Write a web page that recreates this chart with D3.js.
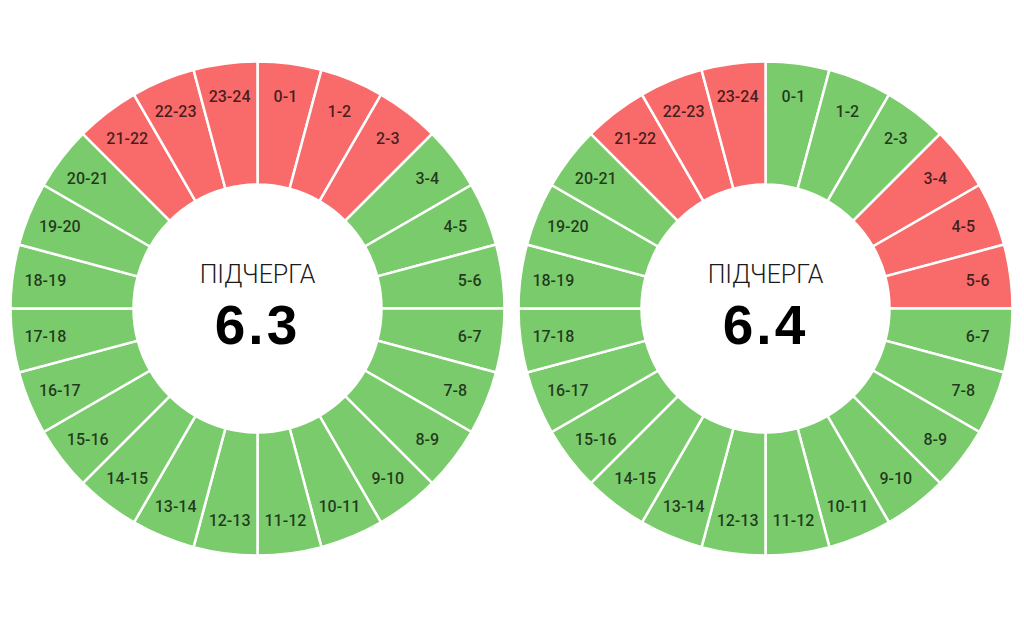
<!DOCTYPE html>
<html>
<head>
<meta charset="utf-8">
<script src="https://cdn.jsdelivr.net/npm/d3@7"></script>
<style>
  html, body { margin: 0; padding: 0; background: #fff; }
  svg { display: block; }
</style>
</head>
<body>
<svg id="chart" width="1024" height="628"></svg>
<script>
// ---- data ----
const hours = ["0-1","1-2","2-3","3-4","4-5","5-6","6-7","7-8","8-9","9-10","10-11","11-12",
               "12-13","13-14","14-15","15-16","16-17","17-18","18-19","19-20","20-21","21-22","22-23","23-24"];
const queueNames = ["6.3", "6.4"];
const queueTitle = "ПІДЧЕРГА";
// 1 = outage (red), 0 = power on (green)
const outage63 = [1,1,1,0,0,0,0,0,0,0,0,0,0,0,0,0,0,0,0,0,0,1,1,1];
const outage64 = [0,0,0,1,1,1,0,0,0,0,0,0,0,0,0,0,0,0,0,0,0,1,1,1];
const outages = [outage63, outage64];

const colorOn = "#7acb6b";
const colorOff = "#f96b6b";

const svg = d3.select("#chart");
const centers = [[257.5, 308.5], [765.5, 308.5]];
const rInner = 124, rOuter = 247, rLabel = 214;

const pie = d3.pie().value(() => 1).sort(null);
const arc = d3.arc().innerRadius(rInner).outerRadius(rOuter);
const color = d3.scaleOrdinal().domain([0, 1]).range([colorOn, colorOff]);

queueNames.forEach((name, qi) => {
  const data = hours.map((h, i) => ({ hour: h, off: outages[qi][i] }));
  const arcs = pie(data);
  const g = svg.append("g").attr("transform", `translate(${centers[qi][0]},${centers[qi][1]})`);

  g.selectAll("path.seg")
    .data(arcs)
    .join("path")
    .attr("class", "seg")
    .attr("d", arc)
    .attr("fill", d => color(d.data.off))
    .attr("stroke", "#fff")
    .attr("stroke-width", 2.5);

  g.selectAll("text.lbl")
    .data(arcs)
    .join("text")
    .attr("class", "lbl")
    .attr("transform", d => {
      const a = (d.startAngle + d.endAngle) / 2;
      return `translate(${Math.sin(a) * rLabel},${-Math.cos(a) * rLabel})`;
    })
    .attr("text-anchor", "middle")
    .attr("dy", "0.36em")
    .attr("font-family", "Roboto, sans-serif")
    .attr("font-weight", 500)
    .attr("font-size", 16)
    .attr("fill", "#000")
    .attr("fill-opacity", 0.72)
    .text(d => d.data.hour);

  g.append("text")
    .attr("text-anchor", "middle")
    .attr("y", -25.5)
    .attr("font-family", "Roboto, sans-serif")
    .attr("font-weight", 300)
    .attr("font-size", 25)
    .attr("fill", "#1a1a1a")
    .text(queueTitle);

  g.append("text")
    .attr("text-anchor", "middle")
    .attr("y", 35)
    .attr("font-family", "'Liberation Sans', Arial, sans-serif")
    .attr("font-weight", 700)
    .attr("font-size", 55)
    .attr("letter-spacing", 3)
    .attr("fill", "#000")
    .text(name);
});
</script>
</body>
</html>
